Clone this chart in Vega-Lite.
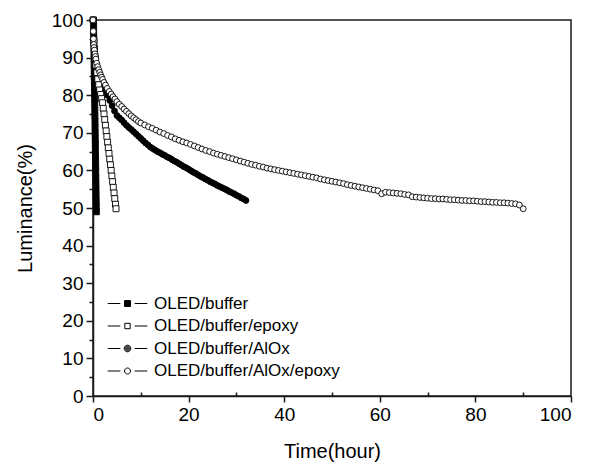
{
"$schema": "https://vega.github.io/schema/vega-lite/v6.json",
"width": 478, "height": 376,
"autosize": "none",
"padding": {"left": 93, "top": 20, "right": 20, "bottom": 68},
"background": "white",
"config": {"view": {"stroke": "#1a1a1a", "strokeWidth": 1.5}, "font": "Liberation Sans"},
"datasets": {
"pts": [
{"series":"OLED/buffer","time":0.10,"luminance":100},{"series":"OLED/buffer","time":0.12,"luminance":98.5},{"series":"OLED/buffer","time":0.13,"luminance":97},{"series":"OLED/buffer","time":0.15,"luminance":95.5},{"series":"OLED/buffer","time":0.17,"luminance":94},{"series":"OLED/buffer","time":0.19,"luminance":92.5},{"series":"OLED/buffer","time":0.21,"luminance":91},{"series":"OLED/buffer","time":0.22,"luminance":89.5},{"series":"OLED/buffer","time":0.24,"luminance":88},{"series":"OLED/buffer","time":0.26,"luminance":86.5},{"series":"OLED/buffer","time":0.28,"luminance":85},{"series":"OLED/buffer","time":0.29,"luminance":83.5},{"series":"OLED/buffer","time":0.31,"luminance":82},{"series":"OLED/buffer","time":0.33,"luminance":80.5},{"series":"OLED/buffer","time":0.35,"luminance":79},{"series":"OLED/buffer","time":0.36,"luminance":77.5},{"series":"OLED/buffer","time":0.38,"luminance":76},{"series":"OLED/buffer","time":0.40,"luminance":74.5},{"series":"OLED/buffer","time":0.42,"luminance":73},{"series":"OLED/buffer","time":0.43,"luminance":71.5},{"series":"OLED/buffer","time":0.45,"luminance":70},{"series":"OLED/buffer","time":0.47,"luminance":68.5},{"series":"OLED/buffer","time":0.49,"luminance":67},{"series":"OLED/buffer","time":0.50,"luminance":65.5},{"series":"OLED/buffer","time":0.52,"luminance":64},{"series":"OLED/buffer","time":0.54,"luminance":62.5},{"series":"OLED/buffer","time":0.56,"luminance":61},{"series":"OLED/buffer","time":0.57,"luminance":59.5},{"series":"OLED/buffer","time":0.59,"luminance":58},{"series":"OLED/buffer","time":0.61,"luminance":56.5},{"series":"OLED/buffer","time":0.63,"luminance":55},{"series":"OLED/buffer","time":0.64,"luminance":53.5},{"series":"OLED/buffer","time":0.66,"luminance":52},{"series":"OLED/buffer","time":0.68,"luminance":50.5},{"series":"OLED/buffer","time":0.70,"luminance":49},

{"series":"OLED/buffer/AlOx","time":0,"luminance":100},{"series":"OLED/buffer/AlOx","time":0.1,"luminance":96.5},{"series":"OLED/buffer/AlOx","time":0.2,"luminance":94},{"series":"OLED/buffer/AlOx","time":0.3,"luminance":92.3},{"series":"OLED/buffer/AlOx","time":0.4,"luminance":91},{"series":"OLED/buffer/AlOx","time":0.5,"luminance":90},{"series":"OLED/buffer/AlOx","time":0.75,"luminance":88},{"series":"OLED/buffer/AlOx","time":1.0,"luminance":86.5},{"series":"OLED/buffer/AlOx","time":1.25,"luminance":85.3},{"series":"OLED/buffer/AlOx","time":1.5,"luminance":84.3},{"series":"OLED/buffer/AlOx","time":1.75,"luminance":83.4},{"series":"OLED/buffer/AlOx","time":2.0,"luminance":82.6},{"series":"OLED/buffer/AlOx","time":2.5,"luminance":81.2},{"series":"OLED/buffer/AlOx","time":3.0,"luminance":80},{"series":"OLED/buffer/AlOx","time":3.5,"luminance":78.6},{"series":"OLED/buffer/AlOx","time":4.0,"luminance":77.2},{"series":"OLED/buffer/AlOx","time":4.5,"luminance":75.8},{"series":"OLED/buffer/AlOx","time":5.0,"luminance":74.6},{"series":"OLED/buffer/AlOx","time":5.5,"luminance":74},{"series":"OLED/buffer/AlOx","time":6.0,"luminance":73.4},{"series":"OLED/buffer/AlOx","time":6.5,"luminance":72.7},{"series":"OLED/buffer/AlOx","time":7.0,"luminance":72},{"series":"OLED/buffer/AlOx","time":7.5,"luminance":71.4},{"series":"OLED/buffer/AlOx","time":8.0,"luminance":70.9},{"series":"OLED/buffer/AlOx","time":8.5,"luminance":70.3},{"series":"OLED/buffer/AlOx","time":9.0,"luminance":69.7},{"series":"OLED/buffer/AlOx","time":9.5,"luminance":69.1},{"series":"OLED/buffer/AlOx","time":10,"luminance":68.5},{"series":"OLED/buffer/AlOx","time":10.5,"luminance":67.9},{"series":"OLED/buffer/AlOx","time":11,"luminance":67.3},{"series":"OLED/buffer/AlOx","time":11.5,"luminance":66.8},{"series":"OLED/buffer/AlOx","time":12,"luminance":66.2},{"series":"OLED/buffer/AlOx","time":12.5,"luminance":65.8},{"series":"OLED/buffer/AlOx","time":13,"luminance":65.4},{"series":"OLED/buffer/AlOx","time":13.5,"luminance":65},{"series":"OLED/buffer/AlOx","time":14,"luminance":64.7},{"series":"OLED/buffer/AlOx","time":14.5,"luminance":64.3},{"series":"OLED/buffer/AlOx","time":15,"luminance":64},{"series":"OLED/buffer/AlOx","time":15.5,"luminance":63.6},{"series":"OLED/buffer/AlOx","time":16,"luminance":63.3},{"series":"OLED/buffer/AlOx","time":16.5,"luminance":62.9},{"series":"OLED/buffer/AlOx","time":17,"luminance":62.5},{"series":"OLED/buffer/AlOx","time":17.5,"luminance":62.2},{"series":"OLED/buffer/AlOx","time":18,"luminance":61.8},{"series":"OLED/buffer/AlOx","time":18.5,"luminance":61.4},{"series":"OLED/buffer/AlOx","time":19,"luminance":61},{"series":"OLED/buffer/AlOx","time":19.5,"luminance":60.7},{"series":"OLED/buffer/AlOx","time":20,"luminance":60.3},{"series":"OLED/buffer/AlOx","time":20.5,"luminance":59.9},{"series":"OLED/buffer/AlOx","time":21,"luminance":59.5},{"series":"OLED/buffer/AlOx","time":21.5,"luminance":59.2},{"series":"OLED/buffer/AlOx","time":22,"luminance":58.8},{"series":"OLED/buffer/AlOx","time":22.5,"luminance":58.4},{"series":"OLED/buffer/AlOx","time":23,"luminance":58.1},{"series":"OLED/buffer/AlOx","time":23.5,"luminance":57.7},{"series":"OLED/buffer/AlOx","time":24,"luminance":57.4},{"series":"OLED/buffer/AlOx","time":24.5,"luminance":57},{"series":"OLED/buffer/AlOx","time":25,"luminance":56.7},{"series":"OLED/buffer/AlOx","time":25.5,"luminance":56.4},{"series":"OLED/buffer/AlOx","time":26,"luminance":56},{"series":"OLED/buffer/AlOx","time":26.5,"luminance":55.7},{"series":"OLED/buffer/AlOx","time":27,"luminance":55.4},{"series":"OLED/buffer/AlOx","time":27.5,"luminance":55.1},{"series":"OLED/buffer/AlOx","time":28,"luminance":54.8},{"series":"OLED/buffer/AlOx","time":28.5,"luminance":54.4},{"series":"OLED/buffer/AlOx","time":29,"luminance":54.1},{"series":"OLED/buffer/AlOx","time":29.5,"luminance":53.8},{"series":"OLED/buffer/AlOx","time":30,"luminance":53.4},{"series":"OLED/buffer/AlOx","time":30.5,"luminance":53.1},{"series":"OLED/buffer/AlOx","time":31,"luminance":52.7},{"series":"OLED/buffer/AlOx","time":31.5,"luminance":52.4},{"series":"OLED/buffer/AlOx","time":32,"luminance":52},

{"series":"OLED/buffer/epoxy","time":0,"luminance":100},{"series":"OLED/buffer/epoxy","time":0.1,"luminance":97},{"series":"OLED/buffer/epoxy","time":0.2,"luminance":94.5},{"series":"OLED/buffer/epoxy","time":0.3,"luminance":92.5},{"series":"OLED/buffer/epoxy","time":0.45,"luminance":90},{"series":"OLED/buffer/epoxy","time":0.6,"luminance":88},{"series":"OLED/buffer/epoxy","time":0.8,"luminance":86},{"series":"OLED/buffer/epoxy","time":1.0,"luminance":84.3},{"series":"OLED/buffer/epoxy","time":1.2,"luminance":82.8},{"series":"OLED/buffer/epoxy","time":1.4,"luminance":81.4},{"series":"OLED/buffer/epoxy","time":1.6,"luminance":80.2},{"series":"OLED/buffer/epoxy","time":1.8,"luminance":79.1},{"series":"OLED/buffer/epoxy","time":2.0,"luminance":78},{"series":"OLED/buffer/epoxy","time":2.15,"luminance":76.5},{"series":"OLED/buffer/epoxy","time":2.3,"luminance":75},{"series":"OLED/buffer/epoxy","time":2.45,"luminance":73.5},{"series":"OLED/buffer/epoxy","time":2.6,"luminance":72},{"series":"OLED/buffer/epoxy","time":2.75,"luminance":70.5},{"series":"OLED/buffer/epoxy","time":2.9,"luminance":69},{"series":"OLED/buffer/epoxy","time":3.05,"luminance":67.5},{"series":"OLED/buffer/epoxy","time":3.2,"luminance":66},{"series":"OLED/buffer/epoxy","time":3.35,"luminance":64.5},{"series":"OLED/buffer/epoxy","time":3.5,"luminance":63},{"series":"OLED/buffer/epoxy","time":3.65,"luminance":61.5},{"series":"OLED/buffer/epoxy","time":3.8,"luminance":60},{"series":"OLED/buffer/epoxy","time":3.95,"luminance":58.5},{"series":"OLED/buffer/epoxy","time":4.1,"luminance":57},{"series":"OLED/buffer/epoxy","time":4.25,"luminance":55.5},{"series":"OLED/buffer/epoxy","time":4.4,"luminance":54},{"series":"OLED/buffer/epoxy","time":4.55,"luminance":52.5},{"series":"OLED/buffer/epoxy","time":4.7,"luminance":51},{"series":"OLED/buffer/epoxy","time":4.82,"luminance":49.8},

{"series":"OLED/buffer/AlOx/epoxy","time":0,"luminance":100},{"series":"OLED/buffer/AlOx/epoxy","time":0.05,"luminance":97},{"series":"OLED/buffer/AlOx/epoxy","time":0.1,"luminance":95},{"series":"OLED/buffer/AlOx/epoxy","time":0.15,"luminance":93.5},{"series":"OLED/buffer/AlOx/epoxy","time":0.2,"luminance":92.7},{"series":"OLED/buffer/AlOx/epoxy","time":0.3,"luminance":92},{"series":"OLED/buffer/AlOx/epoxy","time":0.4,"luminance":91},{"series":"OLED/buffer/AlOx/epoxy","time":0.5,"luminance":90.3},{"series":"OLED/buffer/AlOx/epoxy","time":0.6,"luminance":89.6},{"series":"OLED/buffer/AlOx/epoxy","time":0.8,"luminance":88.5},{"series":"OLED/buffer/AlOx/epoxy","time":1.0,"luminance":87.6},{"series":"OLED/buffer/AlOx/epoxy","time":1.2,"luminance":86.8},{"series":"OLED/buffer/AlOx/epoxy","time":1.4,"luminance":86.1},{"series":"OLED/buffer/AlOx/epoxy","time":1.6,"luminance":85.4},{"series":"OLED/buffer/AlOx/epoxy","time":1.8,"luminance":84.8},{"series":"OLED/buffer/AlOx/epoxy","time":2.0,"luminance":84.2},{"series":"OLED/buffer/AlOx/epoxy","time":2.3,"luminance":83.4},{"series":"OLED/buffer/AlOx/epoxy","time":2.6,"luminance":82.7},{"series":"OLED/buffer/AlOx/epoxy","time":3.0,"luminance":81.8},{"series":"OLED/buffer/AlOx/epoxy","time":3.4,"luminance":81},{"series":"OLED/buffer/AlOx/epoxy","time":3.8,"luminance":80.3},{"series":"OLED/buffer/AlOx/epoxy","time":4.2,"luminance":79.6},{"series":"OLED/buffer/AlOx/epoxy","time":4.6,"luminance":79},{"series":"OLED/buffer/AlOx/epoxy","time":5.0,"luminance":78.3},{"series":"OLED/buffer/AlOx/epoxy","time":5.5,"luminance":77.6},{"series":"OLED/buffer/AlOx/epoxy","time":6.0,"luminance":77},{"series":"OLED/buffer/AlOx/epoxy","time":6.5,"luminance":76.3},{"series":"OLED/buffer/AlOx/epoxy","time":7.0,"luminance":75.7},{"series":"OLED/buffer/AlOx/epoxy","time":7.5,"luminance":75.1},{"series":"OLED/buffer/AlOx/epoxy","time":8.0,"luminance":74.5},{"series":"OLED/buffer/AlOx/epoxy","time":8.5,"luminance":74},{"series":"OLED/buffer/AlOx/epoxy","time":9.0,"luminance":73.5},{"series":"OLED/buffer/AlOx/epoxy","time":9.5,"luminance":73},{"series":"OLED/buffer/AlOx/epoxy","time":10,"luminance":72.6},{"series":"OLED/buffer/AlOx/epoxy","time":10.8,"luminance":72.1},{"series":"OLED/buffer/AlOx/epoxy","time":11.6,"luminance":71.6},{"series":"OLED/buffer/AlOx/epoxy","time":12.4,"luminance":71.2},{"series":"OLED/buffer/AlOx/epoxy","time":13.2,"luminance":70.7},{"series":"OLED/buffer/AlOx/epoxy","time":14,"luminance":70.2},{"series":"OLED/buffer/AlOx/epoxy","time":14.8,"luminance":69.8},{"series":"OLED/buffer/AlOx/epoxy","time":15.6,"luminance":69.3},{"series":"OLED/buffer/AlOx/epoxy","time":16.4,"luminance":68.9},{"series":"OLED/buffer/AlOx/epoxy","time":17.2,"luminance":68.4},{"series":"OLED/buffer/AlOx/epoxy","time":18,"luminance":68},{"series":"OLED/buffer/AlOx/epoxy","time":18.8,"luminance":67.6},{"series":"OLED/buffer/AlOx/epoxy","time":19.6,"luminance":67.3},{"series":"OLED/buffer/AlOx/epoxy","time":20.4,"luminance":66.9},{"series":"OLED/buffer/AlOx/epoxy","time":21.2,"luminance":66.5},{"series":"OLED/buffer/AlOx/epoxy","time":22,"luminance":66.1},{"series":"OLED/buffer/AlOx/epoxy","time":22.8,"luminance":65.7},{"series":"OLED/buffer/AlOx/epoxy","time":23.6,"luminance":65.3},{"series":"OLED/buffer/AlOx/epoxy","time":24.4,"luminance":65},{"series":"OLED/buffer/AlOx/epoxy","time":25.2,"luminance":64.6},{"series":"OLED/buffer/AlOx/epoxy","time":26,"luminance":64.3},{"series":"OLED/buffer/AlOx/epoxy","time":26.8,"luminance":64},{"series":"OLED/buffer/AlOx/epoxy","time":27.6,"luminance":63.7},{"series":"OLED/buffer/AlOx/epoxy","time":28.4,"luminance":63.4},{"series":"OLED/buffer/AlOx/epoxy","time":29.2,"luminance":63.1},{"series":"OLED/buffer/AlOx/epoxy","time":30,"luminance":62.8},{"series":"OLED/buffer/AlOx/epoxy","time":30.8,"luminance":62.5},{"series":"OLED/buffer/AlOx/epoxy","time":31.6,"luminance":62.2},{"series":"OLED/buffer/AlOx/epoxy","time":32.4,"luminance":61.9},{"series":"OLED/buffer/AlOx/epoxy","time":33.2,"luminance":61.6},{"series":"OLED/buffer/AlOx/epoxy","time":34,"luminance":61.4},{"series":"OLED/buffer/AlOx/epoxy","time":34.8,"luminance":61.1},{"series":"OLED/buffer/AlOx/epoxy","time":35.6,"luminance":60.9},{"series":"OLED/buffer/AlOx/epoxy","time":36.4,"luminance":60.6},{"series":"OLED/buffer/AlOx/epoxy","time":37.2,"luminance":60.4},{"series":"OLED/buffer/AlOx/epoxy","time":38,"luminance":60.2},{"series":"OLED/buffer/AlOx/epoxy","time":38.8,"luminance":60},{"series":"OLED/buffer/AlOx/epoxy","time":39.6,"luminance":59.8},{"series":"OLED/buffer/AlOx/epoxy","time":40.4,"luminance":59.6},{"series":"OLED/buffer/AlOx/epoxy","time":41.2,"luminance":59.4},{"series":"OLED/buffer/AlOx/epoxy","time":42,"luminance":59.2},{"series":"OLED/buffer/AlOx/epoxy","time":42.8,"luminance":59},{"series":"OLED/buffer/AlOx/epoxy","time":43.6,"luminance":58.8},{"series":"OLED/buffer/AlOx/epoxy","time":44.4,"luminance":58.6},{"series":"OLED/buffer/AlOx/epoxy","time":45.2,"luminance":58.4},{"series":"OLED/buffer/AlOx/epoxy","time":46,"luminance":58.2},{"series":"OLED/buffer/AlOx/epoxy","time":46.8,"luminance":58},{"series":"OLED/buffer/AlOx/epoxy","time":47.6,"luminance":57.7},{"series":"OLED/buffer/AlOx/epoxy","time":48.4,"luminance":57.5},{"series":"OLED/buffer/AlOx/epoxy","time":49.2,"luminance":57.3},{"series":"OLED/buffer/AlOx/epoxy","time":50,"luminance":57.1},{"series":"OLED/buffer/AlOx/epoxy","time":50.8,"luminance":56.9},{"series":"OLED/buffer/AlOx/epoxy","time":51.6,"luminance":56.7},{"series":"OLED/buffer/AlOx/epoxy","time":52.4,"luminance":56.5},{"series":"OLED/buffer/AlOx/epoxy","time":53.2,"luminance":56.2},{"series":"OLED/buffer/AlOx/epoxy","time":54,"luminance":56},{"series":"OLED/buffer/AlOx/epoxy","time":54.8,"luminance":55.8},{"series":"OLED/buffer/AlOx/epoxy","time":55.6,"luminance":55.6},{"series":"OLED/buffer/AlOx/epoxy","time":56.4,"luminance":55.4},{"series":"OLED/buffer/AlOx/epoxy","time":57.2,"luminance":55.2},{"series":"OLED/buffer/AlOx/epoxy","time":58,"luminance":55},{"series":"OLED/buffer/AlOx/epoxy","time":58.8,"luminance":54.8},{"series":"OLED/buffer/AlOx/epoxy","time":59.6,"luminance":54.6},{"series":"OLED/buffer/AlOx/epoxy","time":60.4,"luminance":53.8},{"series":"OLED/buffer/AlOx/epoxy","time":61.2,"luminance":54.2},{"series":"OLED/buffer/AlOx/epoxy","time":62,"luminance":54.1},{"series":"OLED/buffer/AlOx/epoxy","time":62.8,"luminance":54},{"series":"OLED/buffer/AlOx/epoxy","time":63.6,"luminance":53.9},{"series":"OLED/buffer/AlOx/epoxy","time":64.4,"luminance":53.8},{"series":"OLED/buffer/AlOx/epoxy","time":65.2,"luminance":53.6},{"series":"OLED/buffer/AlOx/epoxy","time":66,"luminance":53.5},{"series":"OLED/buffer/AlOx/epoxy","time":66.8,"luminance":53},{"series":"OLED/buffer/AlOx/epoxy","time":67.6,"luminance":52.9},{"series":"OLED/buffer/AlOx/epoxy","time":68.4,"luminance":52.8},{"series":"OLED/buffer/AlOx/epoxy","time":69.2,"luminance":52.7},{"series":"OLED/buffer/AlOx/epoxy","time":70,"luminance":52.6},{"series":"OLED/buffer/AlOx/epoxy","time":70.8,"luminance":52.5},{"series":"OLED/buffer/AlOx/epoxy","time":71.6,"luminance":52.5},{"series":"OLED/buffer/AlOx/epoxy","time":72.4,"luminance":52.4},{"series":"OLED/buffer/AlOx/epoxy","time":73.2,"luminance":52.4},{"series":"OLED/buffer/AlOx/epoxy","time":74,"luminance":52.3},{"series":"OLED/buffer/AlOx/epoxy","time":74.8,"luminance":52.2},{"series":"OLED/buffer/AlOx/epoxy","time":75.6,"luminance":52.2},{"series":"OLED/buffer/AlOx/epoxy","time":76.4,"luminance":52.1},{"series":"OLED/buffer/AlOx/epoxy","time":77.2,"luminance":52},{"series":"OLED/buffer/AlOx/epoxy","time":78,"luminance":52},{"series":"OLED/buffer/AlOx/epoxy","time":78.8,"luminance":51.9},{"series":"OLED/buffer/AlOx/epoxy","time":79.6,"luminance":51.9},{"series":"OLED/buffer/AlOx/epoxy","time":80.4,"luminance":51.8},{"series":"OLED/buffer/AlOx/epoxy","time":81.2,"luminance":51.7},{"series":"OLED/buffer/AlOx/epoxy","time":82,"luminance":51.7},{"series":"OLED/buffer/AlOx/epoxy","time":82.8,"luminance":51.6},{"series":"OLED/buffer/AlOx/epoxy","time":83.6,"luminance":51.5},{"series":"OLED/buffer/AlOx/epoxy","time":84.4,"luminance":51.5},{"series":"OLED/buffer/AlOx/epoxy","time":85.2,"luminance":51.4},{"series":"OLED/buffer/AlOx/epoxy","time":86,"luminance":51.4},{"series":"OLED/buffer/AlOx/epoxy","time":86.8,"luminance":51.3},{"series":"OLED/buffer/AlOx/epoxy","time":87.6,"luminance":51.2},{"series":"OLED/buffer/AlOx/epoxy","time":88.4,"luminance":51.1},{"series":"OLED/buffer/AlOx/epoxy","time":89.2,"luminance":50.8},{"series":"OLED/buffer/AlOx/epoxy","time":90,"luminance":49.8}
]
},
"data": {"name": "pts"},
"layer": [
{
"mark": {"type": "point", "stroke": "black", "strokeWidth": 0.9, "fillOpacity": 1, "opacity": 1},
"encoding": {
"x": {"field": "time", "type": "quantitative", "scale": {"domain": [0, 100], "nice": false},
 "axis": {"title": "Time(hour)", "values": [0,10,20,30,40,50,60,70,80,90,100],
  "labelExpr": "datum.value % 20 === 0 ? datum.label : ''",
  "tickSize": {"condition": {"test": "datum.value % 20 === 0", "value": 6}, "value": -4},
  "grid": false, "domainColor": "#1a1a1a", "domainWidth": 1.5, "tickColor": "#1a1a1a", "tickWidth": 1.5,
  "labelFont": "Liberation Sans", "labelFontSize": 19, "labelColor": "black", "labelPadding": 3,
  "titleFont": "Liberation Sans", "titleFontSize": 20, "titleFontWeight": "normal", "titleColor": "black", "titlePadding": 17}},
"y": {"field": "luminance", "type": "quantitative", "scale": {"domain": [0, 100], "nice": false},
 "axis": {"title": "Luminance(%)", "values": [0,5,10,15,20,25,30,35,40,45,50,55,60,65,70,75,80,85,90,95,100],
  "labelExpr": "datum.value % 10 === 0 ? datum.label : ''",
  "tickSize": {"condition": {"test": "datum.value % 10 === 0", "value": 7}, "value": 4},
  "grid": false, "domainColor": "#1a1a1a", "domainWidth": 1.5, "tickColor": "#1a1a1a", "tickWidth": 1.5,
  "labelFont": "Liberation Sans", "labelFontSize": 19, "labelColor": "black", "labelPadding": 3,
  "titleFont": "Liberation Sans", "titleFontSize": 20, "titleFontWeight": "normal", "titleColor": "black", "titlePadding": 16}},
"shape": {"field": "series", "type": "nominal", "legend": null,
 "scale": {"domain": ["OLED/buffer","OLED/buffer/epoxy","OLED/buffer/AlOx","OLED/buffer/AlOx/epoxy"], "range": ["square","square","circle","circle"]}},
"fill": {"field": "series", "type": "nominal", "legend": null,
 "scale": {"domain": ["OLED/buffer","OLED/buffer/epoxy","OLED/buffer/AlOx","OLED/buffer/AlOx/epoxy"], "range": ["black","white","black","white"]}},
"size": {"field": "series", "type": "nominal", "legend": null,
 "scale": {"domain": ["OLED/buffer","OLED/buffer/epoxy","OLED/buffer/AlOx","OLED/buffer/AlOx/epoxy"], "range": [36, 34, 40, 22]}}
}
},
{
"mark": {"type": "point", "filled": false, "opacity": 0, "stroke": "black", "strokeWidth": 1, "size": 36},
"encoding": {
"shape": {"field": "series", "type": "nominal",
 "scale": {"domain": ["OLED/buffer","OLED/buffer/epoxy","OLED/buffer/AlOx","OLED/buffer/AlOx/epoxy"],
  "range": [
   "M-6.6,0H-2.4M2.4,0H6.6M-1,-1H1V1H-1ZM-1,-0.66H1M-1,-0.33H1M-1,0H1M-1,0.33H1M-1,0.66H1",
   "M-6.6,0H-2.4M2.4,0H6.6M-0.9,-0.9H0.9V0.9H-0.9Z",
   "M-6.6,0H-2.4M2.4,0H6.6M1.1,0A1.1,1.1,0,1,1,-1.1,0A1.1,1.1,0,1,1,1.1,0ZM0.8,0A0.8,0.8,0,1,1,-0.8,0A0.8,0.8,0,1,1,0.8,0ZM0.5,0A0.5,0.5,0,1,1,-0.5,0A0.5,0.5,0,1,1,0.5,0ZM0.2,0A0.2,0.2,0,1,1,-0.2,0A0.2,0.2,0,1,1,0.2,0Z",
   "M-6.6,0H-2.4M2.4,0H6.6M1,0A1,1,0,1,1,-1,0A1,1,0,1,1,1,0Z"]},
 "legend": {"orient": "none", "legendX": 26, "legendY": 275, "title": null, "padding": 0, "labelLimit": 400,
  "labelFont": "Liberation Sans", "labelFontSize": 17, "labelColor": "black", "labelOffset": 18, "rowPadding": 4.5,
  "symbolStrokeWidth": 1, "symbolSize": 36, "symbolOpacity": 1}}
}
}
],
"resolve": {"scale": {"shape": "independent", "fill": "independent", "size": "independent"}}
}
